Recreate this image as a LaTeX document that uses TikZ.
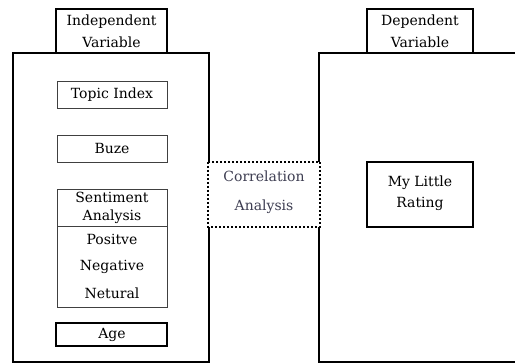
\documentclass[tikz,border=0pt]{standalone}
\usepackage{fontspec}
\setmainfont{DejaVu Serif}
\definecolor{corrgray}{RGB}{62,62,82}
\begin{document}
\begin{tikzpicture}[x=1pt,y=-1pt,
  outer/.style={draw=black,line width=1.4pt},
  inner/.style={draw=black!75,line width=0.9pt,rectangle,inner sep=0pt},
  lbl/.style={font=\fontsize{14}{15}\selectfont,text=black,inner sep=0pt,anchor=center},
  corr/.style={font=\fontsize{14}{15}\selectfont,text=corrgray,inner sep=0pt}]
\useasboundingbox (0,0) rectangle (515,363);
\begin{scope}
\clip (0,0) rectangle (515,363);
% big boxes
\draw[outer] (13,53) rectangle (209,362);
\draw[outer] (319,53) rectangle (530,362);
% header boxes
\draw[outer,fill=white] (56,9) rectangle (167,53);
\draw[outer,fill=white] (367,9) rectangle (473,53);
\node[lbl] (indep1) at (111.5,22) {Independent};
\node[lbl] (indep2) at (111.5,42) {Variable};
\node[lbl] (dep1) at (420,22) {Dependent};
\node[lbl] (dep2) at (420,42) {Variable};
% inner boxes
\draw[inner] (57,81) rectangle (167,108);
\node[lbl] (topic) at (112,95) {Topic Index};
\draw[inner] (57,135) rectangle (167,162);
\node[lbl] (buze) at (112,148.5) {Buze};
\draw[inner] (57,189) rectangle (167,307);
\draw[inner] (57,226) -- (167,226);
\node[lbl] (sent1) at (112,197) {Sentiment};
\node[lbl] (sent2) at (112,217) {Analysis};
\node[lbl] (pos) at (112,239) {Positve};
\node[lbl] (neg) at (112,267) {Negative};
\node[lbl] (neu) at (112,293) {Netural};
\draw[draw=black,line width=1.6pt] (56,323) rectangle (167,346);
\node[lbl] (age) at (112,335) {Age};
% dotted correlation box
\draw[draw=black,line width=2pt,dotted,fill=white] (208,162) rectangle (320,227);
\node[corr] (corr1) at (264,176) {Correlation};
\node[corr] (corr2) at (264,207) {Analysis};
% my little rating
\draw[draw=black,line width=1.4pt] (367,162) rectangle (473,227);
\node[lbl] (mlr1) at (420,183) {My Little};
\node[lbl] (mlr2) at (420,204) {Rating};
\end{scope}
\end{tikzpicture}
\end{document}
